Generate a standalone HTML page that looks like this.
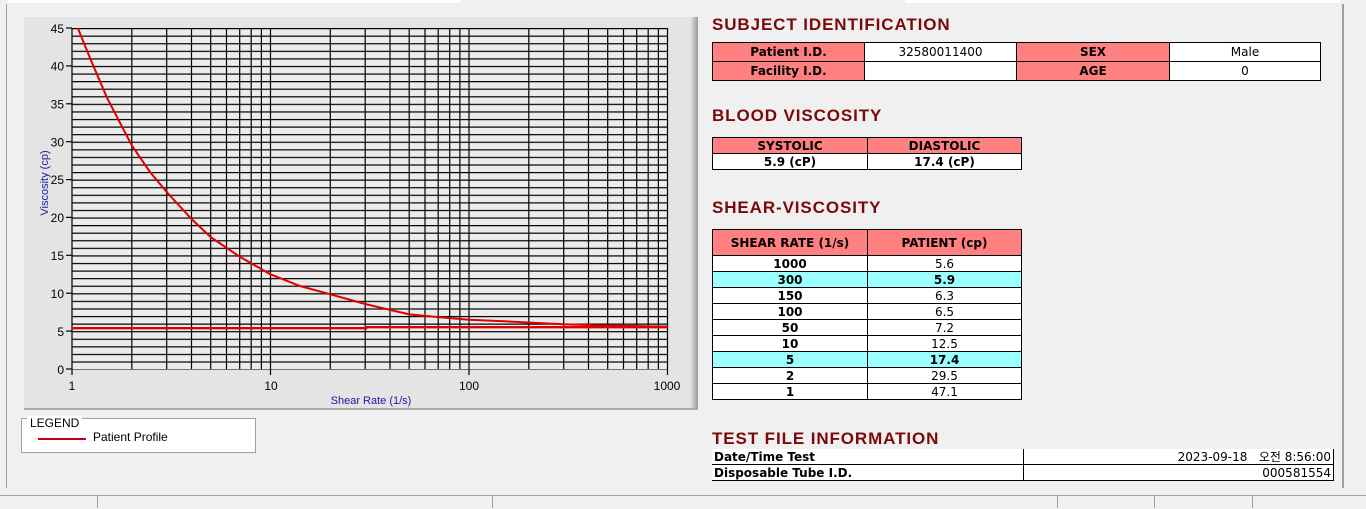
<!DOCTYPE html>
<html><head><meta charset="utf-8"><style>
body{margin:0;width:1366px;height:508px;background:#f0f0f0;position:relative;overflow:hidden;font-family:"DejaVu Sans","Liberation Sans","Noto Sans CJK KR",sans-serif;}
.abs{position:absolute}
.h{position:absolute;color:#7a0a0a;font-family:"Liberation Sans",sans-serif;font-weight:bold;font-size:17px;letter-spacing:0.9px}
table{position:absolute;border-collapse:collapse;font-size:12px;}
td{border:1px solid #000;padding:0;text-align:center;line-height:14px;height:15px;background:#fff}
td.p{background:#ff8080;font-weight:bold}
td.b{font-weight:bold}
tr.c td{background:#99ffff;font-weight:bold}
</style></head><body>
<div class="abs" style="left:8px;top:0;width:452px;height:3px;background:#fff"></div>
<div class="abs" style="left:905px;top:0;width:435px;height:3px;background:#fff"></div>
<div class="abs" style="left:6px;top:4px;width:1px;height:484px;background:#a0a0a0"></div>
<div class="abs" style="left:1342px;top:4px;width:2px;height:484px;background:#a0a0a0"></div>
<svg class="abs" style="left:0;top:0" width="700" height="420">
<defs><pattern id="hp" patternUnits="userSpaceOnUse" x="0" y="28" width="700" height="7.5778"><rect x="0" y="0" width="700" height="1.2" fill="#000"/></pattern>
<linearGradient id="rg" x1="0" x2="1"><stop offset="0" stop-color="#e6e6e6"/><stop offset="1" stop-color="#9a9a9a"/></linearGradient></defs>
<rect x="24" y="17" width="673" height="393" fill="#e4e4e4"/>
<rect x="690" y="17" width="8" height="393" fill="url(#rg)"/>
<rect x="24" y="408" width="674" height="2" fill="#a8a8a8"/>
<rect x="72" y="28" width="596" height="341" fill="#ebebeb"/>
<rect x="72" y="27.5" width="596" height="342" fill="url(#hp)"/>
<g stroke="#000" stroke-width="1.2">
<line x1="72" y1="28" x2="72" y2="369"/><line x1="131.8" y1="28" x2="131.8" y2="369"/><line x1="166.7" y1="28" x2="166.7" y2="369"/><line x1="191.5" y1="28" x2="191.5" y2="369"/><line x1="210.7" y1="28" x2="210.7" y2="369"/><line x1="226.5" y1="28" x2="226.5" y2="369"/><line x1="239.7" y1="28" x2="239.7" y2="369"/><line x1="251.2" y1="28" x2="251.2" y2="369"/><line x1="261.4" y1="28" x2="261.4" y2="369"/>
<line x1="270.5" y1="28" x2="270.5" y2="369"/><line x1="330.3" y1="28" x2="330.3" y2="369"/><line x1="365.2" y1="28" x2="365.2" y2="369"/><line x1="390" y1="28" x2="390" y2="369"/><line x1="409.2" y1="28" x2="409.2" y2="369"/><line x1="425" y1="28" x2="425" y2="369"/><line x1="438.2" y1="28" x2="438.2" y2="369"/><line x1="449.7" y1="28" x2="449.7" y2="369"/><line x1="459.9" y1="28" x2="459.9" y2="369"/>
<line x1="469" y1="28" x2="469" y2="369"/><line x1="528.8" y1="28" x2="528.8" y2="369"/><line x1="563.7" y1="28" x2="563.7" y2="369"/><line x1="588.5" y1="28" x2="588.5" y2="369"/><line x1="607.7" y1="28" x2="607.7" y2="369"/><line x1="623.5" y1="28" x2="623.5" y2="369"/><line x1="636.7" y1="28" x2="636.7" y2="369"/><line x1="648.2" y1="28" x2="648.2" y2="369"/><line x1="658.4" y1="28" x2="658.4" y2="369"/><line x1="667.5" y1="28" x2="667.5" y2="369"/>
<line x1="72" y1="369" x2="72" y2="375"/><line x1="270.5" y1="369" x2="270.5" y2="375"/><line x1="469" y1="369" x2="469" y2="375"/><line x1="667.5" y1="369" x2="667.5" y2="375"/>
<line x1="66" y1="28" x2="72" y2="28"/><line x1="66" y1="65.9" x2="72" y2="65.9"/><line x1="66" y1="103.8" x2="72" y2="103.8"/><line x1="66" y1="141.7" x2="72" y2="141.7"/><line x1="66" y1="179.6" x2="72" y2="179.6"/><line x1="66" y1="217.4" x2="72" y2="217.4"/><line x1="66" y1="255.3" x2="72" y2="255.3"/><line x1="66" y1="293.2" x2="72" y2="293.2"/><line x1="66" y1="331.1" x2="72" y2="331.1"/><line x1="66" y1="369" x2="72" y2="369"/>
</g>
<g font-family="Liberation Sans,sans-serif" font-size="12" fill="#000" text-anchor="end">
<text x="64" y="33">45</text><text x="64" y="70.5">40</text><text x="64" y="108.5">35</text><text x="64" y="146.5">30</text><text x="64" y="184">25</text><text x="64" y="222">20</text><text x="64" y="260">15</text><text x="64" y="298">10</text><text x="64" y="336">5</text><text x="64" y="374">0</text>
</g>
<g font-family="Liberation Sans,sans-serif" font-size="12" fill="#000" text-anchor="middle">
<text x="72" y="390">1</text><text x="271" y="390">10</text><text x="469" y="390">100</text><text x="667" y="390">1000</text>
</g>
<text x="371" y="404" font-family="Liberation Sans,sans-serif" font-size="11" fill="#1a1aa0" text-anchor="middle">Shear Rate (1/s)</text>
<text transform="translate(48,183) rotate(-90)" font-family="Liberation Sans,sans-serif" font-size="11" fill="#1a1aa0" text-anchor="middle">Viscosity (cp)</text>
<polyline fill="none" stroke="#e00000" stroke-width="2" points="77.8,28 90,58 107,97.7 131.8,145.4 150,172 166.7,192 191.5,219 210.7,237.1 239.7,256.7 270.5,274.3 300,286 330.3,294.3 365.2,304 409.2,314.4 438.3,317.1 469,319.7 503.9,321.3 563.7,324.3 600,325.5 667.5,326.6"/>
<polyline fill="none" stroke="#e00000" stroke-width="2.4" points="72,328.2 366,328.2 366,327.2 667.5,327.2"/>
</svg>
<div class="abs" style="left:21px;top:418px;width:235px;height:35px;background:#fff;border:1px solid #a0a0a0;box-sizing:border-box"></div>
<div class="abs" style="left:27px;top:416px;background:#fff;padding:0 3px;font-family:'Liberation Sans',sans-serif;font-size:12px">LEGEND</div>
<div class="abs" style="left:38px;top:438px;width:48px;height:2px;background:#c00010"></div>
<div class="abs" style="left:93px;top:430px;font-family:'Liberation Sans',sans-serif;font-size:12px">Patient Profile</div>

<div class="h" style="left:712px;top:15px">SUBJECT IDENTIFICATION</div>
<table style="left:712px;top:42px;width:609px"><tr><td class="p" style="width:151px;height:18px">Patient I.D.</td><td style="width:151px">32580011400</td><td class="p" style="width:152px">SEX</td><td>Male</td></tr>
<tr><td class="p" style="height:18px">Facility I.D.</td><td></td><td class="p">AGE</td><td>0</td></tr></table>

<div class="h" style="left:712px;top:106px">BLOOD VISCOSITY</div>
<table style="left:712px;top:137px;width:310px"><tr><td class="p" style="width:154px;height:14px">SYSTOLIC</td><td class="p">DIASTOLIC</td></tr>
<tr><td class="b" style="height:14px">5.9 (cP)</td><td class="b">17.4 (cP)</td></tr></table>

<div class="h" style="left:712px;top:198px">SHEAR-VISCOSITY</div>
<table style="left:712px;top:229px;width:310px">
<tr><td class="p" style="width:154px;height:25px">SHEAR RATE (1/s)</td><td class="p">PATIENT (cp)</td></tr>
<tr><td class="b">1000</td><td>5.6</td></tr>
<tr class="c"><td>300</td><td>5.9</td></tr>
<tr><td class="b">150</td><td>6.3</td></tr>
<tr><td class="b">100</td><td>6.5</td></tr>
<tr><td class="b">50</td><td>7.2</td></tr>
<tr><td class="b">10</td><td>12.5</td></tr>
<tr class="c"><td>5</td><td>17.4</td></tr>
<tr><td class="b">2</td><td>29.5</td></tr>
<tr><td class="b">1</td><td>47.1</td></tr></table>

<div class="h" style="left:712px;top:429px">TEST FILE INFORMATION</div>
<table style="left:712px;top:449px;width:622px">
<tr><td class="b" style="width:309px;text-align:left;padding-left:2px;border-left:none;border-top:none">Date/Time Test</td><td style="text-align:right;padding-right:2px;border-top:none">2023-09-18 &nbsp;&nbsp;오전 8:56:00</td></tr>
<tr><td class="b" style="text-align:left;padding-left:2px;border-left:none">Disposable Tube I.D.</td><td style="text-align:right;padding-right:2px">000581554</td></tr></table>

<div class="abs" style="left:0;top:495px;width:1366px;height:13px;background:#f0f0f0;border-top:1px solid #a0a0a0"></div>
<div class="abs" style="left:97px;top:496px;width:1px;height:12px;background:#a0a0a0"></div>
<div class="abs" style="left:492px;top:496px;width:1px;height:12px;background:#a0a0a0"></div>
<div class="abs" style="left:1057px;top:496px;width:1px;height:12px;background:#a0a0a0"></div>
<div class="abs" style="left:1154px;top:496px;width:1px;height:12px;background:#a0a0a0"></div>
<div class="abs" style="left:1252px;top:496px;width:1px;height:12px;background:#a0a0a0"></div>
</body></html>
